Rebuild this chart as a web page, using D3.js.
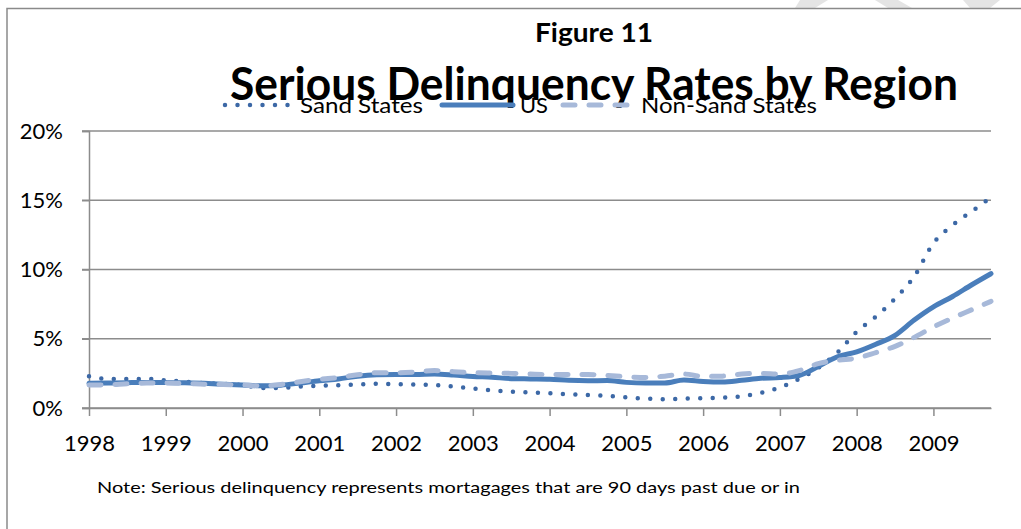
<!DOCTYPE html>
<head>
  <meta charset="utf-8">
  <script src="https://d3js.org/d3.v7.min.js"></script>
  <style>
    body { margin: 0; background: #fff; }
    svg { display: block; font-family: Lato, "Open Sans", sans-serif; }
  </style>
</head>
<body>
  <svg width="1021" height="529"></svg>
  <script>
    // quarterly points, 1998 Q1 .. 2009 Q4 (value in %)
    var years = d3.range(48).map(i => 1998 + i / 4);
    var sandStates = [2.3, 2.1, 2.1, 2.1, 2.0, 1.9, 1.8, 1.75, 1.66, 1.45, 1.45, 1.55,
                      1.6, 1.65, 1.7, 1.75, 1.73, 1.7, 1.66, 1.55, 1.4, 1.28, 1.18, 1.12,
                      1.06, 1.0, 0.94, 0.88, 0.77, 0.68, 0.63, 0.68, 0.7, 0.75, 0.85, 1.1,
                      1.48, 2.1, 2.9, 4.0, 5.5, 6.6, 7.9, 9.5, 11.9, 13.2, 14.2, 15.2];
    var us = [1.78, 1.8, 1.83, 1.85, 1.85, 1.82, 1.78, 1.72, 1.66, 1.6, 1.65, 1.8,
              1.97, 2.1, 2.3, 2.4, 2.42, 2.42, 2.45, 2.38, 2.28, 2.22, 2.12, 2.1,
              2.08, 2.0, 1.97, 1.98, 1.85, 1.8, 1.8, 2.02, 1.92, 1.88, 2.0, 2.15,
              2.2, 2.35, 3.0, 3.7, 4.05, 4.6, 5.25, 6.35, 7.3, 8.05, 8.9, 9.7];
    var nonSand = [1.66, 1.68, 1.75, 1.8, 1.8, 1.78, 1.72, 1.7, 1.66, 1.6, 1.7, 1.9,
                   2.07, 2.2, 2.4, 2.55, 2.55, 2.6, 2.7, 2.62, 2.55, 2.52, 2.5, 2.45,
                   2.42, 2.42, 2.42, 2.35, 2.26, 2.2, 2.3, 2.45, 2.28, 2.3, 2.45, 2.5,
                   2.45, 2.7, 3.2, 3.45, 3.6, 4.0, 4.45, 5.1, 5.85, 6.5, 7.1, 7.7];
    var yearTicks = d3.range(1998, 2010);
    var pctTicks = [0, 5, 10, 15, 20];
    var seriesNames = ['Sand States', 'US', 'Non-Sand States'];

    var svg = d3.select('svg');
    var plot = {left: 89, right: 991, top: 131, bottom: 408};

    var x = d3.scaleLinear().domain([1998, 2009.75]).range([plot.left, plot.right]);
    var y = d3.scaleLinear().domain([0, 20]).range([plot.bottom, plot.top]);

    // watermark bits peeking above the frame
    svg.append('g').attr('fill', '#e4e4e4')
      .selectAll('path')
      .data(['M800,0 L828,0 L815,8 L795,8 Z', 'M875,0 L898,0 L912,8 L888,8 Z', 'M963,0 L1000,0 L990,8 L970,8 Z'])
      .join('path').attr('d', d => d);

    // chart frame
    svg.append('path')
      .attr('d', 'M7,529 L7,8.5 L1021,8.5')
      .attr('fill', 'none').attr('stroke', '#8a8a8a').attr('stroke-width', 1.5);

    // gridlines
    svg.append('g')
      .selectAll('line')
      .data(pctTicks)
      .join('line')
      .attr('x1', plot.left - 7).attr('x2', plot.right)
      .attr('y1', d => y(d)).attr('y2', d => y(d))
      .attr('stroke', '#8c8c8c').attr('stroke-width', 1.5);

    var yAxis = svg.append('g')
      .attr('transform', 'translate(' + [plot.left, 0] + ')')
      .call(d3.axisLeft(y).tickValues(pctTicks).tickFormat(d => d + '%').tickSize(7).tickPadding(19));
    yAxis.select('.domain').attr('stroke', '#8c8c8c').attr('stroke-width', 1.5);
    yAxis.selectAll('.tick line').attr('stroke', '#8c8c8c').attr('stroke-width', 1.5);
    yAxis.selectAll('text').attr('font-size', 22).attr('fill', '#000').attr('font-family', 'Lato');

    var xAxis = svg.append('g')
      .attr('transform', 'translate(' + [0, plot.bottom] + ')')
      .call(d3.axisBottom(x).tickValues(yearTicks).tickFormat(d3.format('d')).tickSizeInner(8).tickSizeOuter(0).tickPadding(19));
    xAxis.select('.domain').attr('stroke', '#8c8c8c').attr('stroke-width', 1.5);
    xAxis.selectAll('.tick line').attr('stroke', '#8c8c8c').attr('stroke-width', 1.5);
    xAxis.selectAll('text').attr('font-size', 22).attr('fill', '#000').attr('font-family', 'Lato');

    // lines
    var line = d3.line()
      .x((d, i) => x(years[i]))
      .y(d => y(d))
      .curve(d3.curveMonotoneX);

    var styles = [
      {data: sandStates, color: '#3c68a6', width: 4.5, dash: '0 12.5'},
      {data: us, color: '#4a7ebb', width: 5, dash: null},
      {data: nonSand, color: '#a7b9d9', width: 5, dash: '12 14'}
    ];

    styles.forEach(s => {
      svg.append('path')
        .attr('d', line(s.data))
        .attr('fill', 'none')
        .attr('stroke', s.color)
        .attr('stroke-width', s.width)
        .attr('stroke-linecap', 'round')
        .attr('stroke-linejoin', 'round')
        .attr('stroke-dasharray', s.dash);
    });

    // titles
    svg.append('text')
      .attr('x', 594).attr('y', 42)
      .attr('text-anchor', 'middle')
      .attr('font-size', 26).attr('font-weight', 'bold')
      .attr('textLength', 118).attr('lengthAdjust', 'spacingAndGlyphs')
      .text('Figure 11');

    svg.append('text')
      .attr('x', 594).attr('y', 100)
      .attr('text-anchor', 'middle')
      .attr('font-size', 45).attr('font-weight', 'bold')
      .attr('textLength', 728).attr('lengthAdjust', 'spacingAndGlyphs')
      .text('Serious Delinquency Rates by Region');

    // legend (drawn over the title, as in the original)
    var legend = [
      {sx: 225, ex: 288, tx: 300, tw: 123},
      {sx: 442, ex: 513, tx: 520, tw: 28},
      {sx: 563, ex: 627, tx: 641, tw: 176}
    ];
    legend.forEach((l, i) => {
      svg.append('line')
        .attr('x1', l.sx).attr('x2', l.ex).attr('y1', 105).attr('y2', 105)
        .attr('stroke', styles[i].color)
        .attr('stroke-width', styles[i].width)
        .attr('stroke-linecap', 'round')
        .attr('stroke-dasharray', styles[i].dash);
      svg.append('text')
        .attr('x', l.tx).attr('y', 113)
        .attr('font-size', 21)
        .attr('textLength', l.tw).attr('lengthAdjust', 'spacingAndGlyphs')
        .text(seriesNames[i]);
    });

    svg.append('text')
      .attr('x', 97).attr('y', 493)
      .attr('font-size', 16)
      .attr('textLength', 703).attr('lengthAdjust', 'spacingAndGlyphs')
      .text('Note: Serious delinquency represents mortagages that are 90 days past due or in');
  </script>
</body>
